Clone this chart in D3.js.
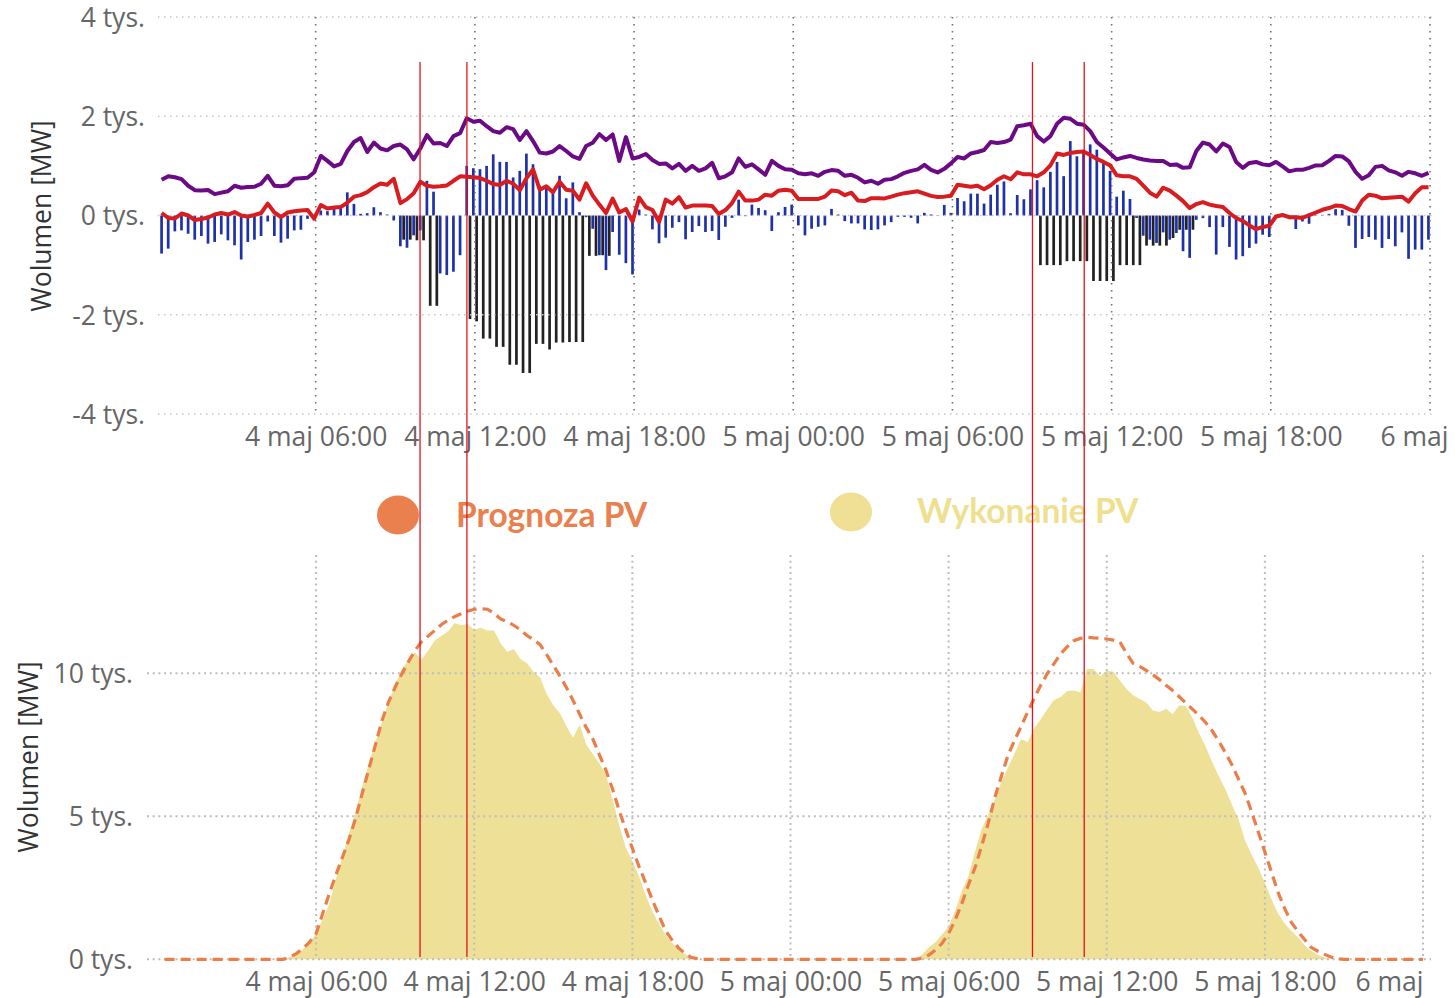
<!DOCTYPE html>
<html><head><meta charset="utf-8">
<script src="https://cdn.jsdelivr.net/npm/d3@7"></script>
<style>
html,body{margin:0;padding:0;background:#fff;}
svg{display:block;}
</style></head>
<body>
<svg id="chart" width="1455" height="998"></svg>
<script>
// ---------------- DATA ----------------
// 15-minute periods, first period ends 4 maj 00:15, last ends 6 maj 00:00
const firstPeriod = "2024-05-04T00:15:00";
const periodCount = 192;

const xTickLabels = ["4 maj 06:00","4 maj 12:00","4 maj 18:00","5 maj 00:00","5 maj 06:00","5 maj 12:00","5 maj 18:00","6 maj"];
const xTickTimes = ["2024-05-04T06:00:00","2024-05-04T12:00:00","2024-05-04T18:00:00","2024-05-05T00:00:00","2024-05-05T06:00:00","2024-05-05T12:00:00","2024-05-05T18:00:00","2024-05-06T00:00:00"];
const topYTicks = [-4000,-2000,0,2000,4000];
const bottomYTicks = [0,5000,10000];
const yTitle = "Wolumen [MW]";
const legendLabels = ["Prognoza PV","Wykonanie PV"];
const markerTimes = ["2024-05-04T09:56:00","2024-05-04T11:42:00","2024-05-05T09:01:00","2024-05-05T10:58:00"];

// top chart: blue bars
const blueBars = [
-767,-667,-320,-300,-367,-487,-413,-567,-533,-380,
-500,-600,-887,-533,-487,-413,-120,-413,-547,-467,
-300,-287,-67,-100,100,87,133,200,467,233,
33,47,167,67,20,-100,-620,-650,-400,-300,
700,480,-1167,-1200,-1133,-800,1000,953,933,1000,
1233,1080,1080,767,900,1247,1033,600,580,500,
800,347,667,67,-33,-267,-800,-1100,-333,-790,
-960,-1187,120,20,-280,-560,-447,-247,-133,-480,
-333,-213,-333,-313,-493,-227,-47,320,-13,220,
153,107,-313,67,173,220,-200,-400,-267,-227,
-200,133,20,-113,-160,-160,-280,-293,-280,-200,
-133,-27,-27,-47,-160,53,20,7,213,53,
353,287,440,440,240,420,620,687,47,413,
327,527,713,567,880,1080,793,1500,1193,1280,
1433,1327,1080,900,380,500,333,-50,-407,-487,
-553,-340,-487,-353,-720,-853,-87,-53,-233,-787,
-233,-633,-887,-820,-653,-567,-387,-433,-53,-20,
-73,-273,-120,-167,-10,13,33,127,113,-207,
-653,-473,-433,-487,-653,-473,-620,-340,-873,-687,
-687,-487];

// top chart: black bars
const blackBars = [
0,0,0,0,0,0,0,0,0,0,
0,0,0,0,0,0,0,0,0,0,
0,0,0,0,0,0,0,0,0,0,
0,0,0,0,0,0,-487,-487,-500,-500,
-1820,-1820,0,0,0,0,-2087,-2133,-2480,-2480,
-2647,-2647,-3007,-3007,-3173,-3173,-2587,-2587,-2700,-2560,
-2560,-2550,-2550,-2550,-813,-813,-800,-813,0,0,
0,0,0,0,0,0,0,0,0,0,
0,0,0,0,0,0,0,0,0,0,
0,0,0,0,0,0,0,0,0,0,
0,0,0,0,0,0,0,0,0,0,
0,0,0,0,0,0,0,0,0,0,
0,0,0,0,0,0,0,0,0,0,
0,0,-1000,-1000,-1000,-1000,-920,-920,-920,-920,
-1320,-1320,-1320,-1320,-1000,-1000,-1000,-1000,-607,-607,
-607,-607,-453,-287,-287,-287,0,0,0,0,
0,0,0,0,0,0,0,0,0,0,
0,0,0,0,0,0,0,0,0,0,
0,0,0,0,0,0,0,0,0,0,
0,0];

// top chart: purple line
const purpleLine = [
720,790,770,733,600,510,505,513,430,460,
490,600,560,575,580,640,800,600,590,610,
740,753,760,870,1200,1100,990,1040,1300,1480,
1560,1280,1470,1350,1313,1400,1430,1333,1133,1350,
1620,1450,1460,1400,1600,1660,1960,1890,1910,1800,
1700,1667,1780,1740,1520,1700,1500,1267,1250,1290,
1400,1300,1190,1140,1400,1467,1640,1520,1633,1100,
1580,1150,1180,1240,1120,1040,1050,950,1040,900,
1000,900,950,1060,750,790,870,1150,980,1030,
930,820,1100,1000,930,920,850,830,850,800,
880,915,900,800,820,760,667,700,640,720,
733,790,860,900,930,1020,920,867,940,1050,
1180,1150,1250,1280,1320,1480,1460,1480,1530,1800,
1820,1850,1600,1490,1600,1850,1970,1950,1850,1830,
1700,1480,1370,1250,1130,1170,1200,1160,1130,1110,
1100,1100,1020,1030,960,970,1300,1470,1430,1290,
1450,1380,1080,960,1060,1080,1030,1013,1080,990,
890,920,920,960,1010,1013,1100,1200,1190,1090,
880,740,810,980,1000,910,870,800,880,850,
800,860];

// top chart: red line
const redLine = [
50,-50,-60,40,0,-90,-70,-40,20,50,
20,70,0,-20,10,50,240,60,-30,60,
87,100,110,-60,210,140,160,170,260,380,
410,470,570,645,620,740,250,330,450,680,
600,580,590,605,700,790,780,770,755,700,
633,615,700,640,510,750,930,520,590,470,
680,520,500,320,650,400,220,50,340,60,
130,-120,360,170,110,-130,320,240,370,160,
200,200,200,190,30,110,250,480,300,300,
320,420,400,500,520,500,333,333,333,333,
380,505,487,410,460,300,290,350,350,345,
380,420,450,470,487,440,395,373,380,400,
620,600,580,600,530,610,720,790,730,870,
830,830,790,870,1010,1250,1220,1260,1280,1290,
1220,1140,1080,1010,810,793,790,740,600,460,
380,560,500,400,290,150,230,270,220,190,
170,50,-50,-110,-200,-275,-230,-207,-20,10,
-33,-35,-50,10,60,115,150,200,190,130,
80,300,420,400,347,360,370,380,280,450,
570,570];

// bottom chart: PV forecast (Prognoza PV)
const pvForecast = [
0,0,0,0,0,0,0,0,0,0,
0,0,0,0,0,0,0,0,0,80,
200,380,600,900,1600,2300,2950,3570,4200,4940,
5800,6650,7500,8350,9000,9520,9980,10400,10800,11100,
11300,11500,11700,11860,11980,12080,12170,12240,12260,12240,
12100,11900,11800,11680,11520,11320,11180,11000,10650,10280,
9900,9500,9050,8570,8100,7700,7150,6600,5950,5200,
4530,3880,3250,2680,2100,1550,1020,680,400,200,
60,20,0,0,0,0,0,0,0,0,
0,0,0,0,0,0,0,0,0,0,
0,0,0,0,0,0,0,0,0,0,
0,0,0,0,0,40,150,320,560,900,
1380,1950,2600,3200,3950,4750,5650,6400,7130,7650,
8140,8650,9130,9590,10000,10340,10680,10930,11140,11220,
11260,11240,11230,11200,11160,11090,10700,10350,10240,10100,
9950,9780,9580,9400,9180,8960,8750,8530,8280,7990,
7630,7230,6800,6300,5800,5150,4450,3750,3050,2340,
1780,1300,980,700,420,290,180,80,20,0,
0,0,0,0,0,0,0,0,0,0,
0,0];

// bottom chart: PV actual (Wykonanie PV)
const pvActual = [
0,0,0,0,0,0,0,0,0,0,
0,0,0,0,0,0,0,0,0,80,
170,350,580,900,1400,1950,2800,3600,4400,5150,
6050,6850,7600,8300,9000,9600,10150,10450,10730,10480,
10800,11150,11300,11450,11750,11690,11720,11520,11590,11500,
11500,11050,10750,10850,10500,10350,10050,9850,9270,8880,
8600,8150,7750,8200,7500,7180,6850,6450,5600,4700,
3900,3450,2900,2250,1700,1250,870,580,340,180,
70,0,0,0,0,0,0,0,0,0,
0,0,0,0,0,0,0,0,0,0,
0,0,0,0,0,0,0,0,0,0,
0,0,0,0,0,170,420,600,870,1150,
1700,2400,2900,3750,4550,5050,5580,6200,6700,7200,
7700,7590,8080,8400,8750,9070,9170,9380,9400,9330,
10150,10150,9900,10100,10050,9750,9450,9230,9100,8980,
8700,8650,8760,8580,8870,8860,8450,7900,7450,6900,
6400,5950,5400,4900,4150,3650,3200,2680,2100,1600,
1250,1000,770,500,300,160,60,0,0,0,
0,0,0,0,0,0,0,0,0,0,
0,0];

// ---------------- CHART ----------------
const parse = d3.isoParse;
const t0 = parse(firstPeriod);
const times = d3.range(periodCount).map(i => d3.timeMinute.offset(t0, 15 * i));
const domainStart = parse("2024-05-04T00:00:00"), domainEnd = parse("2024-05-06T00:00:00");

const svg = d3.select("#chart");
const FONT = "'Open Sans', 'Segoe UI', sans-serif";
const FONT_SIZE = "26.5px";
const labelColor = "#666666";

// ---- scales
const xTop = d3.scaleTime().domain([domainStart, domainEnd]).range([156.5, 1430]);
const yTop = d3.scaleLinear().domain([-4000, 4000]).range([414, 17]);
const xBot = d3.scaleTime().domain([domainStart, domainEnd]).range([158, 1423]);
const yBot = d3.scaleLinear().domain([0, 10000]).range([959.3, 673.3]);

const tickDates = xTickTimes.map(parse);

// ================= TOP CHART =================
const gTop = svg.append("g");

// bars
const barW = 2.7;
gTop.append("g").selectAll("rect").data(times).join("rect")
  .attr("x", (d) => xTop(d) - 2.9)
  .attr("width", barW)
  .attr("y", (d, i) => yTop(Math.max(0, blueBars[i])))
  .attr("height", (d, i) => Math.abs(yTop(blueBars[i]) - yTop(0)))
  .attr("fill", "#1f31a8");
gTop.append("g").selectAll("rect").data(times).join("rect")
  .attr("x", (d) => xTop(d) + 0.4)
  .attr("width", barW)
  .attr("y", (d, i) => yTop(Math.max(0, blackBars[i])))
  .attr("height", (d, i) => Math.abs(yTop(blackBars[i]) - yTop(0)))
  .attr("fill", "#222222");

// gridlines (horizontal)
gTop.append("g").selectAll("line").data(topYTicks).join("line")
  .attr("x1", 158).attr("x2", 1432)
  .attr("y1", d => yTop(d)).attr("y2", d => yTop(d))
  .attr("stroke", "#c6c6c6").attr("stroke-width", 1.5)
  .attr("stroke-dasharray", "1.5,4.5");
// gridlines (vertical)
gTop.append("g").selectAll("line").data(tickDates).join("line")
  .attr("x1", d => xTop(d)).attr("x2", d => xTop(d))
  .attr("y1", yTop(4000)).attr("y2", yTop(-4000))
  .attr("stroke", "#6e6e6e").attr("stroke-width", 1.6)
  .attr("stroke-dasharray", "1.6,5.4");

// lines
const lineOffset = -1.5;
const lineTop = (arr) => d3.line()
  .x((d) => xTop(d) + lineOffset)
  .y((d, i) => yTop(arr[i]))
  .curve(d3.curveLinear);
gTop.append("path").datum(times).attr("d", lineTop(purpleLine))
  .attr("fill", "none").attr("stroke", "#6c0a86").attr("stroke-width", 4)
  .attr("stroke-linejoin", "round");
gTop.append("path").datum(times).attr("d", lineTop(redLine))
  .attr("fill", "none").attr("stroke", "#d81c1f").attr("stroke-width", 4)
  .attr("stroke-linejoin", "round");

// axes
const topXAxis = gTop.append("g").attr("transform", "translate(0,427)")
  .call(d3.axisBottom(xTop).tickValues(tickDates).tickFormat((d, i) => xTickLabels[i]).tickSize(0).tickPadding(0));
const topYAxis = gTop.append("g").attr("transform", "translate(145,0)")
  .call(d3.axisLeft(yTop).tickValues(topYTicks).tickFormat(d => (d / 1000) + " tys.").tickSize(0).tickPadding(0));

// ================= BOTTOM CHART =================
const gBot = svg.append("g");

gBot.append("path").datum(times)
  .attr("d", d3.area().x(d => xBot(d)).y0(yBot(0)).y1((d, i) => yBot(pvActual[i])))
  .attr("fill", "#eee096");

gBot.append("g").selectAll("line").data(bottomYTicks).join("line")
  .attr("x1", 147).attr("x2", 1431)
  .attr("y1", d => yBot(d)).attr("y2", d => yBot(d))
  .attr("stroke", "#bdbdbd").attr("stroke-width", 2)
  .attr("stroke-dasharray", "2,3.7");
gBot.append("g").selectAll("line").data(tickDates).join("line")
  .attr("x1", d => xBot(d)).attr("x2", d => xBot(d))
  .attr("y1", 555).attr("y2", yBot(0))
  .attr("stroke", "#bdbdbd").attr("stroke-width", 2)
  .attr("stroke-dasharray", "2,3.7");

gBot.append("path").datum(times)
  .attr("d", d3.line().x(d => xBot(d)).y((d, i) => yBot(pvForecast[i])))
  .attr("fill", "none").attr("stroke", "#eb7d48").attr("stroke-width", 3.2)
  .attr("stroke-dasharray", "10,6");

const botXAxis = gBot.append("g").attr("transform", "translate(0,972)")
  .call(d3.axisBottom(xBot).tickValues(tickDates).tickFormat((d, i) => xTickLabels[i]).tickSize(0).tickPadding(0));
const botYAxis = gBot.append("g").attr("transform", "translate(133,0)")
  .call(d3.axisLeft(yBot).tickValues(bottomYTicks).tickFormat(d => (d / 1000) + " tys.").tickSize(0).tickPadding(0));

// axis styling
[topXAxis, topYAxis, botXAxis, botYAxis].forEach(g => {
  g.select(".domain").remove();
  g.selectAll("text").attr("fill", labelColor).style("font-family", FONT).style("font-size", FONT_SIZE);
});
[topXAxis, botXAxis].forEach(g => {
  g.selectAll("text").attr("dy", "0.71em");
  g.selectAll(".tick").filter((d, i) => i === xTickLabels.length - 1)
    .select("text").attr("text-anchor", "end");
});
topXAxis.selectAll(".tick").filter((d, i) => i === xTickLabels.length - 1).select("text").attr("x", 18);
topYAxis.selectAll("text").attr("dy", "0.35em");
botYAxis.selectAll("text").attr("dy", "0.35em");

// axis titles
svg.append("text").attr("transform", "translate(42,216) rotate(-90)")
  .attr("text-anchor", "middle").attr("dy", "0.35em")
  .style("font-family", FONT).style("font-size", FONT_SIZE).attr("fill", "#333")
  .text(yTitle);
svg.append("text").attr("transform", "translate(29,757) rotate(-90)")
  .attr("text-anchor", "middle").attr("dy", "0.35em")
  .style("font-family", FONT).style("font-size", FONT_SIZE).attr("fill", "#333")
  .text(yTitle);

// legend
const legendColors = ["#ea804e", "#efe096"];
const legendTextColors = ["#e9804e", "#efe08f"];
const legendPos = [{cx: 398, cy: 515, tx: 456, ty: 527}, {cx: 851, cy: 512, tx: 917, ty: 523}];
const lg = svg.append("g");
legendLabels.forEach((lab, i) => {
  lg.append("ellipse").attr("cx", legendPos[i].cx).attr("cy", legendPos[i].cy)
    .attr("rx", 21).attr("ry", 19.5).attr("fill", legendColors[i]);
  lg.append("text").attr("x", legendPos[i].tx).attr("y", legendPos[i].ty)
    .style("font-family", "Lato, 'Open Sans', sans-serif").style("font-weight", "bold")
    .style("font-size", "33.5px").attr("fill", legendTextColors[i]).text(lab);
});

// red marker lines (drawn on top)
svg.append("g").selectAll("line").data(markerTimes.map(parse)).join("line")
  .attr("x1", d => xTop(d)).attr("x2", d => xTop(d))
  .attr("y1", 62).attr("y2", 957)
  .attr("stroke", "#e0141c").attr("stroke-width", 1.3);
</script>
</body></html>
